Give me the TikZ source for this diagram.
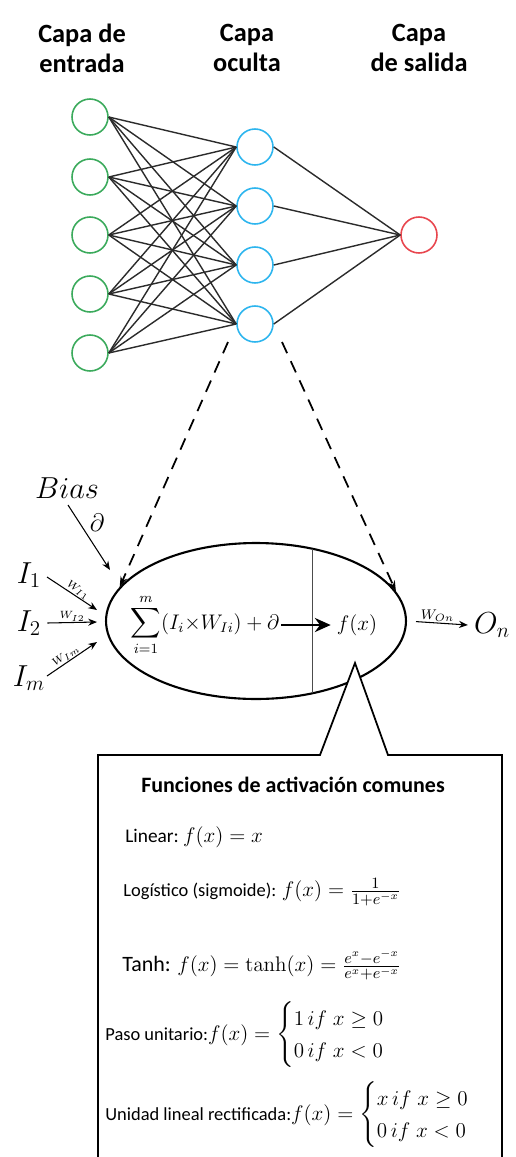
\documentclass[tikz,border=0pt]{standalone}
\usepackage{amsmath,amssymb}
\usepackage[no-math]{fontspec}
\setmainfont{Carlito}
\usepackage{tikz}
\usetikzlibrary{arrows.meta,positioning,shapes.geometric}
\definecolor{inGreen}{HTML}{3BAA5C}
\definecolor{hidBlue}{HTML}{2DB5EE}
\definecolor{outRed}{HTML}{E8464E}
\definecolor{wire}{HTML}{2B2B2B}
\newcommand{\bigmath}[1]{{\fontsize{12.5}{15}\selectfont$#1$}}

\begin{document}
\begin{tikzpicture}[x=0.02cm,y=-0.02cm,
  neuron/.style={circle,draw,line width=0.9pt,minimum size=0.72cm,inner sep=0pt},
  head/.style={font=\bfseries\fontsize{15}{17}\selectfont,align=center},
  edge/.style={draw=wire,line width=0.8pt},
  inarrow/.style={-{Stealth[length=5pt,width=4pt]},line width=0.6pt},
  wlabel/.style={inner sep=0.5pt,font=\fontsize{6.5}{7}\selectfont},
  fnline/.style={anchor=west,font=\fontsize{10.5}{12}\selectfont,inner sep=0pt}]
\useasboundingbox (0,0) rectangle (515,1157);

% Layer titles
\node[head] (hIn) at (82,48) {Capa de\\entrada};
\node[head] (hHid) at (247,48) {Capa\\oculta};
\node[head] (hOut) at (419,48) {Capa\\de salida};

% Network
\foreach \n/\y in {1/117,2/177,3/235,4/294,5/353}
  \node[neuron,draw=inGreen] (in\n) at (90,\y) {};
\foreach \n/\y in {1/147,2/206,3/265,4/324}
  \node[neuron,draw=hidBlue] (hid\n) at (255,\y) {};
\node[neuron,draw=outRed] (out) at (419,235) {};
\foreach \i in {1,...,5}
  \foreach \j in {1,...,4}
    \draw[edge] (in\i.east) -- (hid\j.west);
\foreach \j in {1,...,4}
  \draw[edge] (hid\j.east) -- (out.west);

% Single neuron
\node[ellipse,draw,line width=1.2pt,minimum width=6cm,minimum height=3.12cm,inner sep=0pt] (cell) at (256,621) {};
\draw[line width=0.5pt,black!70] (312,549) -- (312,693);
\coordinate (zl) at (228,342);
\coordinate (zr) at (282,342);
\draw[dashed,line width=1pt,dash pattern=on 7pt off 5pt,-{Stealth[length=6pt,width=4pt]}] (zl) -- (cell.166);
\draw[dashed,line width=1pt,dash pattern=on 7pt off 5pt,-{Stealth[length=6pt,width=4pt]}] (zr) -- (cell.12);

\node[font=\fontsize{12}{14}\selectfont,inner sep=1pt] (sum) at (205,625) {$\displaystyle\sum_{i=1}^{m}(I_i{\times}W_{Ii})+\partial$};
\node[font=\fontsize{12}{14}\selectfont] (fx) at (357,625) {$f(x)$};
\draw[-{Stealth[length=9pt,width=8pt]},line width=1.4pt] (sum.east) -- (fx.west);

% Inputs and bias
\node[font=\fontsize{17}{19}\selectfont] (I1) at (29,575) {$I_1$};
\node[font=\fontsize{17}{19}\selectfont] (I2) at (29,623) {$I_2$};
\node[font=\fontsize{17}{19}\selectfont] (Im) at (29,678) {$I_m$};
\node[font=\fontsize{17}{19}\selectfont] (bias) at (67,488) {$Bias$};
\node[font=\fontsize{15}{17}\selectfont] (bd) at (97,523) {$\partial$};
\coordinate (t1) at (97,610);
\coordinate (t2) at (97,622);
\coordinate (tm) at (97,642);
\coordinate (tb) at (110,570);
\draw[inarrow] (47,577) -- (t1) node[pos=0.55,above,sloped,wlabel] {$W_{I1}$};
\draw[inarrow] (I2.east) -- (t2) node[midway,above,wlabel] {$W_{I2}$};
\draw[inarrow] (47,676) -- (tm) node[pos=0.45,above,sloped,wlabel] {$W_{Im}$};
\draw[inarrow] (68,505) -- (tb);

% Output
\node[font=\fontsize{17}{19}\selectfont] (On) at (492,625) {$O_n$};
\draw[inarrow,shorten <=0.18cm] (cell.east) -- (On.west) node[midway,above,wlabel,font=\fontsize{8}{9}\selectfont] {$W_{On}$};

% Activation functions callout
\draw[fill=white,line width=1pt] (98,1165) -- (98,755) -- (320,755) -- (355,663) -- (388,755) -- (502,755) -- (502,1165);
\node[font=\bfseries\fontsize{12.5}{15}\selectfont] (ttl) at (293,785) {Funciones de activación comunes};
\node[fnline,font=\fontsize{11}{13}\selectfont] (lin) at (125,837) {Linear:\ \bigmath{f(x)=x}};
\node[fnline] (sig) at (123,892) {Logístico (sigmoide): \bigmath{f(x)=\frac{1}{1+e^{-x}}}};
\node[fnline,font=\fontsize{12.5}{15}\selectfont] (tanh) at (122,965) {Tanh: \bigmath{f(x)=\tanh(x)=\frac{e^{x}-e^{-x}}{e^{x}+e^{-x}}}};
\node[fnline] (step) at (105,1035) {Paso unitario:\bigmath{f(x)=\begin{cases}1\,if\;x\ge0\\0\,if\;x<0\end{cases}}};
\node[fnline] (relu) at (105,1115) {Unidad lineal rectificada:\bigmath{f(x)=\begin{cases}x\,if\;x\ge0\\0\,if\;x<0\end{cases}}};
\end{tikzpicture}
\end{document}
